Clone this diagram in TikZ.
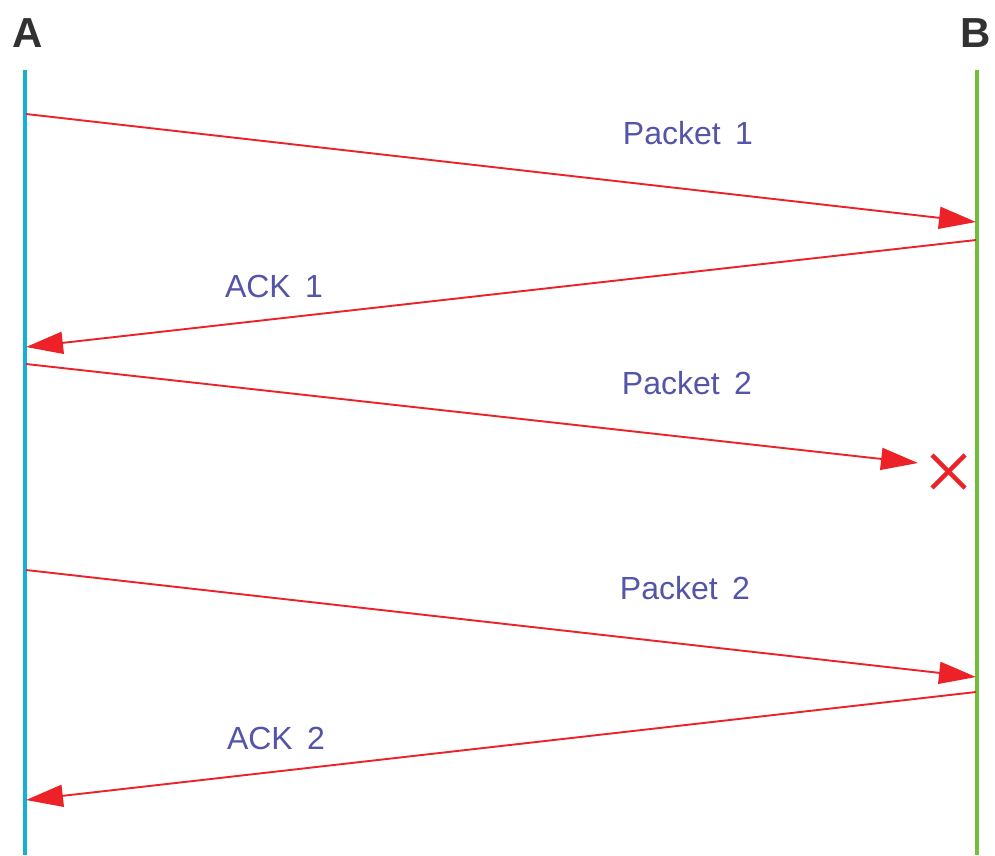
\documentclass[tikz,border=0pt]{standalone}
\usepackage{fontspec}
\setmainfont{Liberation Sans}
\usetikzlibrary{arrows.meta}
\definecolor{lineA}{RGB}{20,178,206}
\definecolor{lineB}{RGB}{112,190,60}
\definecolor{msgred}{RGB}{236,34,40}
\definecolor{msgtext}{RGB}{84,84,168}
\definecolor{hosttext}{RGB}{50,50,50}
\tikzset{
  host/.style={text=hosttext,font=\fontsize{42}{42}\selectfont\bfseries,inner sep=0pt},
  timeline/.style={line width=3.6pt},
  msg/.style={draw=msgred,line width=1.9pt,-{Triangle[length=37pt,width=22pt]}},
  msglabel/.style={text=msgtext,font=\fontsize{32}{32}\selectfont,inner sep=0pt},
  lost/.style={draw=msgred,line width=4.5pt}
}
\begin{document}
\begin{tikzpicture}[x=1pt,y=-1pt]
  \useasboundingbox (0,0) rectangle (995,855);
  % host labels
  \node[host] (hA) at (28,33) {A};
  \node[host] (hB) at (976,33) {B};
  % timelines
  \coordinate (aTop) at (25,70);  \coordinate (aBot) at (25,855);
  \coordinate (bTop) at (977,70); \coordinate (bBot) at (977,855);
  \draw[timeline,lineA] (aTop) -- (aBot);
  \draw[timeline,lineB] (bTop) -- (bBot);
  % message end points
  \coordinate (p1s) at (26,114);  \coordinate (p1e) at (976,222);
  \coordinate (a1s) at (976,240); \coordinate (a1e) at (26,347);
  \coordinate (p2s) at (26,364);  \coordinate (p2e) at (918,463);
  \coordinate (r2s) at (26,570);  \coordinate (r2e) at (976,677);
  \coordinate (a2s) at (976,692); \coordinate (a2e) at (26,800);
  % messages
  \draw[msg] (p1s) -- (p1e);
  \draw[msg] (a1s) -- (a1e);
  \draw[msg] (p2s) -- (p2e);
  \draw[msg] (r2s) -- (r2e);
  \draw[msg] (a2s) -- (a2e);
  % lost packet mark
  \coordinate (x1) at (932,455); \coordinate (x2) at (965,488);
  \coordinate (x3) at (932,488); \coordinate (x4) at (965,455);
  \draw[lost] (x1) -- (x2);
  \draw[lost] (x3) -- (x4);
  % labels
  \node[msglabel] (l1) at (688,133) {Packet\hspace{0.45em}1};
  \node[msglabel] (l2) at (274,286) {ACK\hspace{0.45em}1};
  \node[msglabel] (l3) at (687,383) {Packet\hspace{0.45em}2};
  \node[msglabel] (l4) at (685,588) {Packet\hspace{0.45em}2};
  \node[msglabel] (l5) at (276,738) {ACK\hspace{0.45em}2};
\end{tikzpicture}
\end{document}
